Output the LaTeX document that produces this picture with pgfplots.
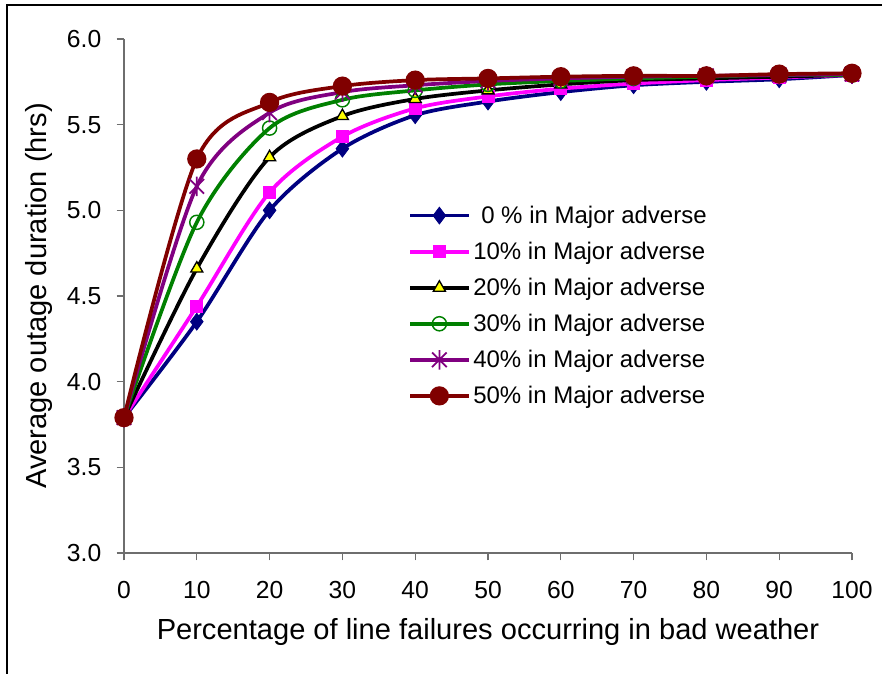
\documentclass[border=0pt]{standalone}
\usepackage{fontspec}
\setmainfont{Liberation Sans}
\usepackage{pgfplots}
\pgfplotsset{compat=1.18}
\definecolor{cnavy}{RGB}{0,0,128}
\definecolor{cmag}{RGB}{255,0,255}
\definecolor{cgreen}{RGB}{0,128,0}
\definecolor{cpurple}{RGB}{128,0,128}
\definecolor{cmaroon}{RGB}{128,0,0}
\definecolor{cyel}{RGB}{255,255,0}
\definecolor{caxis}{RGB}{110,110,110}
\pgfdeclareplotmark{xstar}{%
  \pgfpathmoveto{\pgfqpoint{0pt}{\pgfplotmarksize}}%
  \pgfpathlineto{\pgfqpoint{0pt}{-\pgfplotmarksize}}%
  \pgfpathmoveto{\pgfqpoint{-0.75\pgfplotmarksize}{-0.75\pgfplotmarksize}}%
  \pgfpathlineto{\pgfqpoint{0.75\pgfplotmarksize}{0.75\pgfplotmarksize}}%
  \pgfpathmoveto{\pgfqpoint{-0.75\pgfplotmarksize}{0.75\pgfplotmarksize}}%
  \pgfpathlineto{\pgfqpoint{0.75\pgfplotmarksize}{-0.75\pgfplotmarksize}}%
  \pgfusepathqstroke}
\begin{document}
\begin{tikzpicture}
\useasboundingbox (0pt,0pt) rectangle (661.5pt,505.5pt);
\draw[line width=1.2pt,black] (5.25pt,0pt) -- (5.25pt,501.75pt) -- (661.5pt,501.75pt);
\begin{axis}[
  at={(93pt,90.75pt)}, anchor=south west,
  scale only axis, width=546pt, height=385.5pt,
  xmin=0, xmax=100, ymin=3, ymax=6,
  xtick={0,10,...,100}, ytick={3,3.5,...,6},
  axis lines=left, axis line style={caxis, line width=0.9pt, -},
  tick align=outside, major tick length=5.5pt,
  tick style={caxis, line width=0.9pt},
  /pgf/number format/assume math mode=true,
  yticklabel style={/pgf/number format/fixed, /pgf/number format/fixed zerofill, /pgf/number format/precision=1},
  ticklabel style={font=\fontsize{18.5}{21}\selectfont},
  xticklabel style={yshift=-12pt},
  yticklabel style={xshift=-8pt},
  xlabel={Percentage of line failures occurring in bad weather},
  ylabel={Average outage duration (hrs)},
  label style={font=\fontsize{21.8}{25}\selectfont},
  xlabel style={yshift=-8pt},
  ylabel style={yshift=4pt},
  legend style={draw=none, fill=none, at={(0.39,0.681)}, anchor=north west,
    font=\fontsize{18}{21}\selectfont, row sep=8.5pt, inner sep=0pt,
    cells={anchor=west}},
  legend image code/.code={\draw[mark repeat=2,mark phase=2] plot coordinates {(0pt,0pt)(22pt,0pt)(44pt,0pt)};},
  every axis plot/.append style={line width=2.8pt, smooth},
  clip=false,
]
\addplot[cnavy, mark=diamond*, mark size=6.3pt, mark options={solid, fill=cnavy, line width=0.6pt}] coordinates {
(0,3.79)(10,4.35)(20,5.00)(30,5.36)(40,5.555)(50,5.635)(60,5.69)(70,5.73)(80,5.75)(90,5.765)(100,5.79)};
\addlegendentry{\,\,0 \% in Major adverse}
\addplot[cmag, mark=square*, mark size=4.5pt, mark options={solid, fill=cmag, line width=0.6pt}] coordinates {
(0,3.79)(10,4.44)(20,5.105)(30,5.43)(40,5.595)(50,5.665)(60,5.71)(70,5.74)(80,5.76)(90,5.775)(100,5.79)};
\addlegendentry{10\% in Major adverse}
\addplot[black, mark=triangle*, mark size=5.2pt, mark options={solid, fill=cyel, draw=black, line width=1pt}] coordinates {
(0,3.79)(10,4.66)(20,5.31)(30,5.55)(40,5.65)(50,5.70)(60,5.735)(70,5.76)(80,5.77)(90,5.78)(100,5.79)};
\addlegendentry{20\% in Major adverse}
\addplot[cgreen, mark=o, mark size=5.3pt, mark options={solid, fill=white, draw=cgreen, line width=1.1pt}] coordinates {
(0,3.79)(10,4.93)(20,5.48)(30,5.645)(40,5.70)(50,5.735)(60,5.755)(70,5.77)(80,5.78)(90,5.79)(100,5.79)};
\addlegendentry{30\% in Major adverse}
\addplot[cpurple, mark=xstar, mark size=7.3pt, mark options={solid, draw=cpurple, line width=1.3pt}] coordinates {
(0,3.79)(10,5.14)(20,5.57)(30,5.69)(40,5.73)(50,5.755)(60,5.77)(70,5.78)(80,5.785)(90,5.79)(100,5.795)};
\addlegendentry{40\% in Major adverse}
\addplot[cmaroon, mark=*, mark size=5.8pt, mark options={solid, fill=cmaroon, draw=cmaroon}] coordinates {
(0,3.79)(10,5.30)(20,5.63)(30,5.725)(40,5.76)(50,5.77)(60,5.78)(70,5.785)(80,5.785)(90,5.795)(100,5.80)};
\addlegendentry{50\% in Major adverse}
\end{axis}
\end{tikzpicture}
\end{document}
